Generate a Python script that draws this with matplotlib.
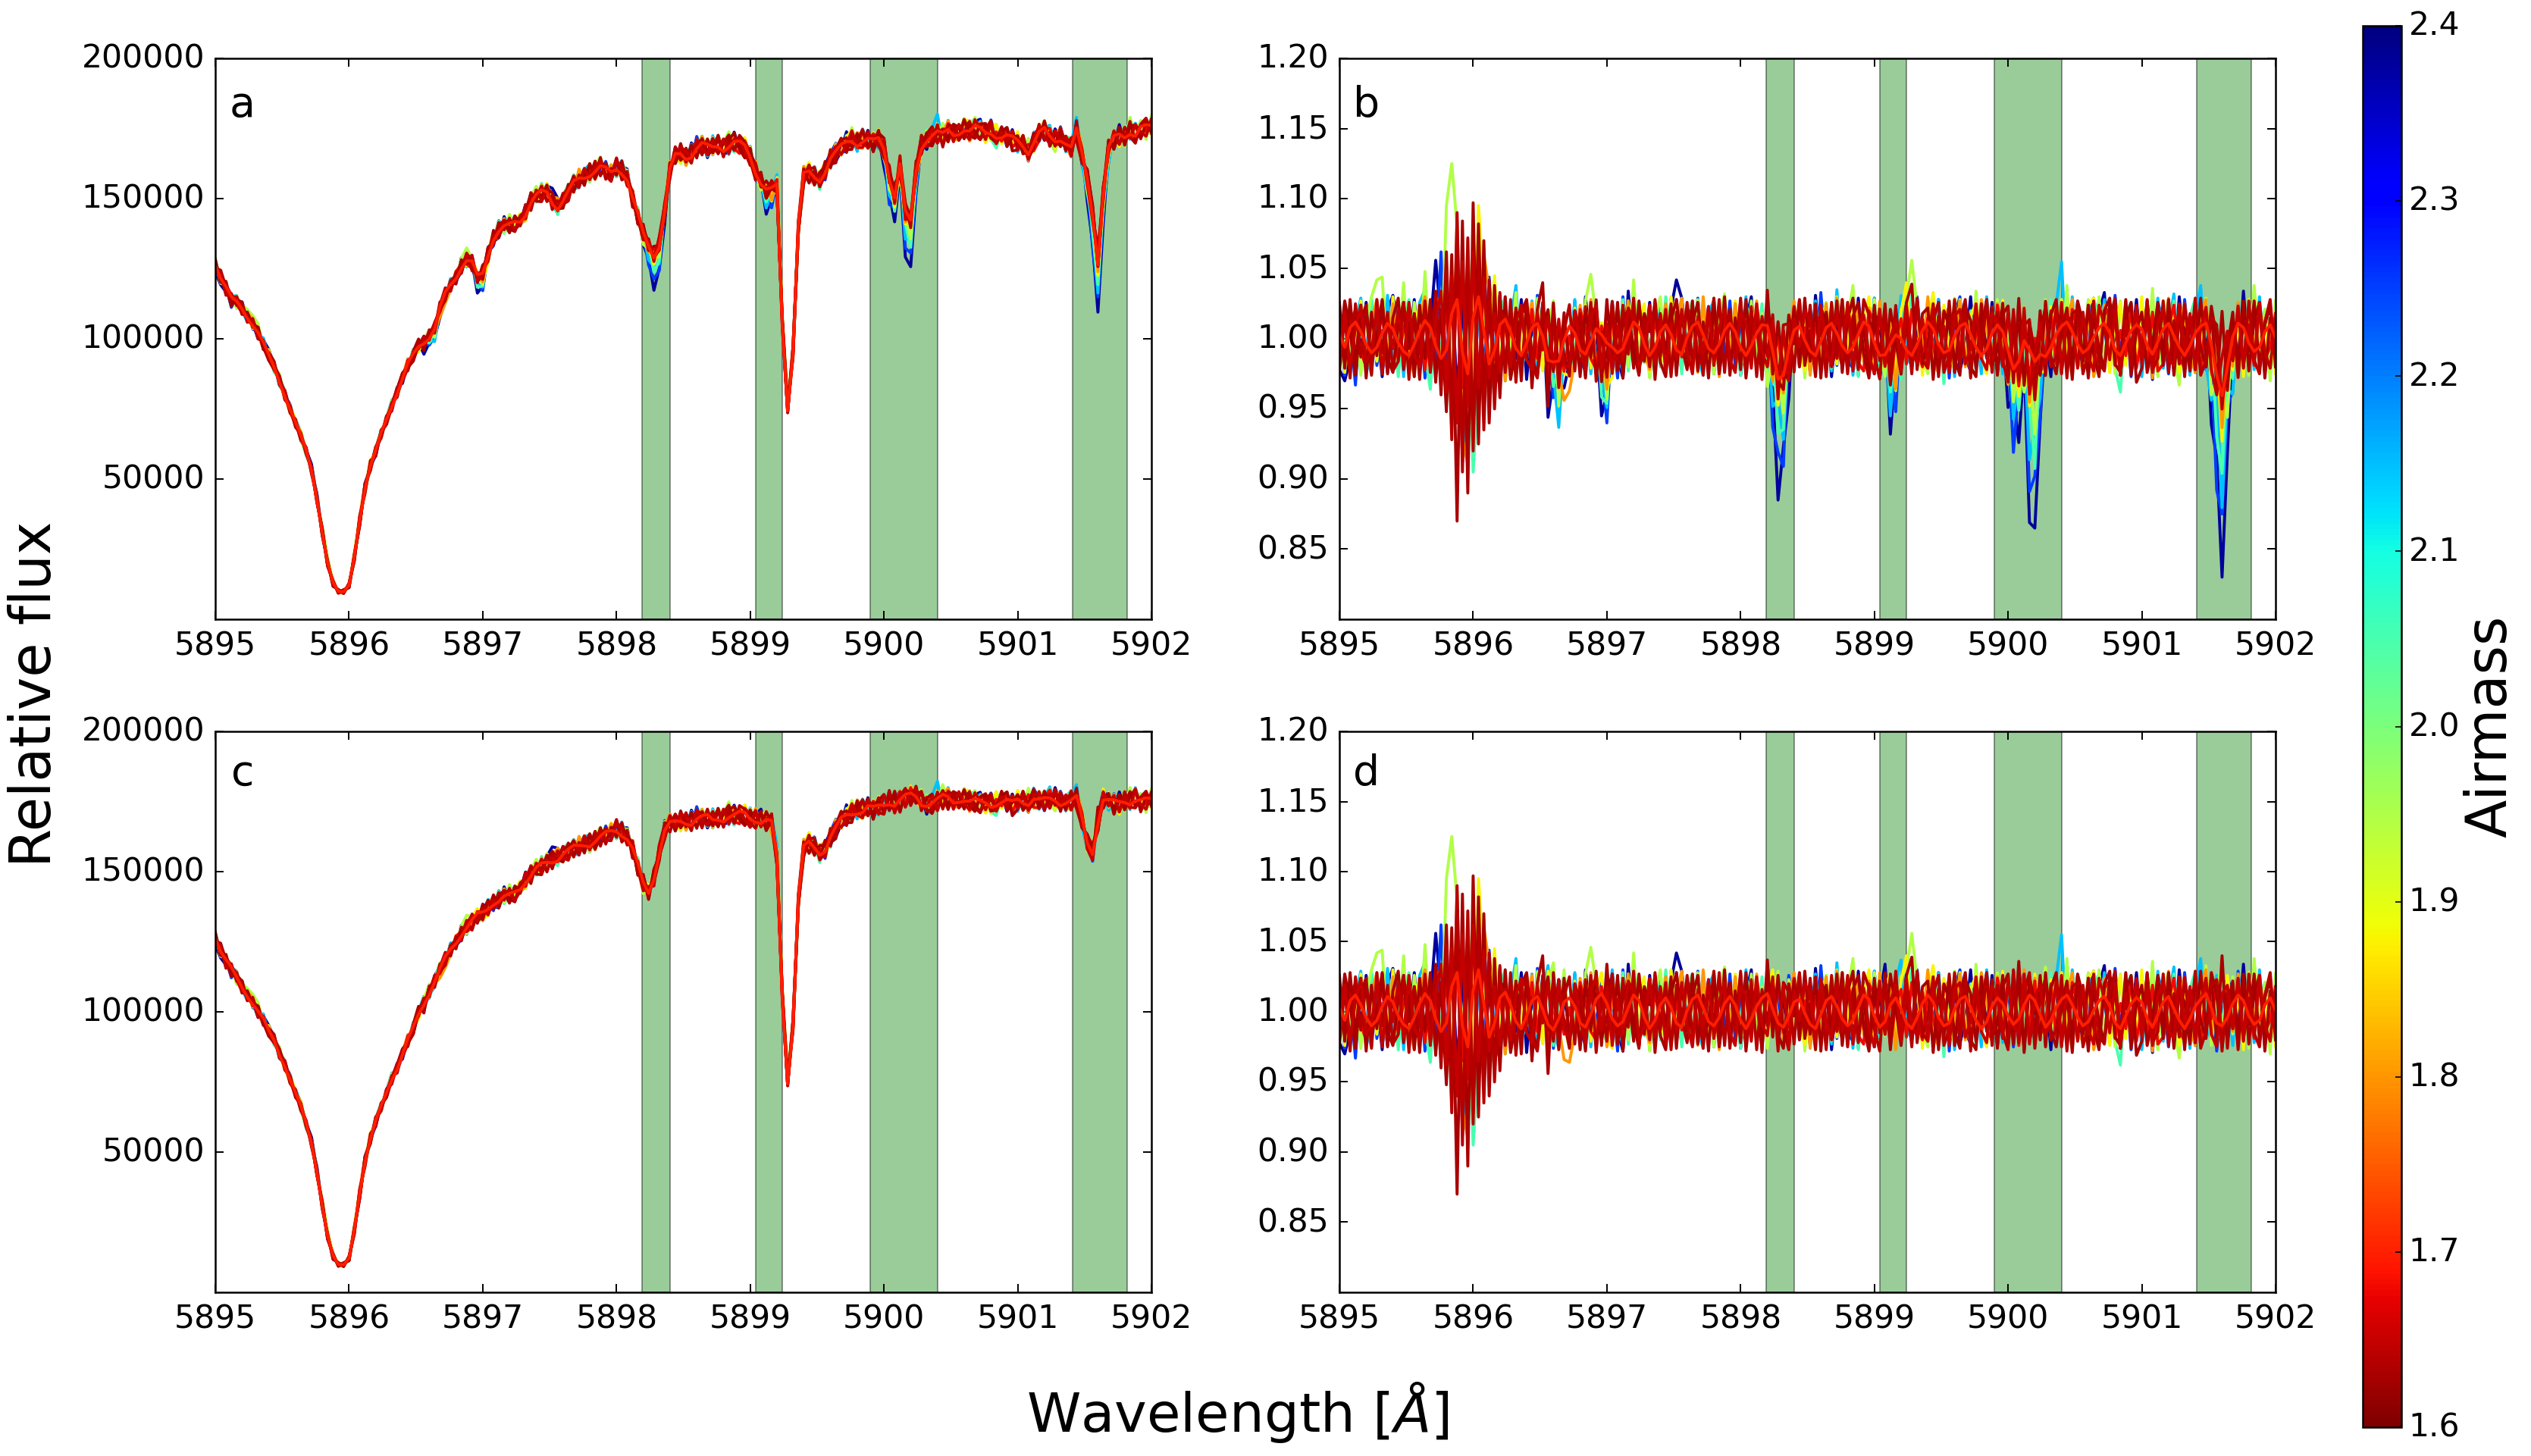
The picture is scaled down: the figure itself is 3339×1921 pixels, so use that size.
import numpy as np
import matplotlib
matplotlib.use('Agg')
from matplotlib import rcParams, cm
from matplotlib.colors import Normalize
from matplotlib.transforms import ScaledTranslation
import matplotlib.pyplot as plt

W, H = 3339, 1921
rcParams.update({'font.family': 'DejaVu Sans', 'font.size': 15.3, 'axes.linewidth': 0.9})

# sampling step of all the traces below, in Angstrom
wave_start, wave_step = 5895.0, 0.04

# mean spectrum before correction, in units of 1000 counts (22 samples per row)
mean_a = [
    126,122,118,114,113,111,108,105,102,98,94,90,85,80,75,70,65,60,53,43,31,20,
    13,10,10,12,22,35,47,55,60,66,71,76,81,86,91,94,97,99,101,104,111,116,
    119,122,126,128,127,122,123,130,136,139,140,140,141,142,145,149,151,152,152,149,147,149,
    152,155,157,158,159,160,161,160,159,161,160,157,150,144,137,133,130,134,146,160,165,166,
    165,166,168,169,168,168,169,168,169,170,169,168,165,160,156,153,153,155,105,75,95,140,
    158,159,158,157,160,164,166,168,170,171,170,171,171,170,171,168,158,151,162,145,142,160,
    169,171,172,173,172,174,173,174,175,174,175,174,173,174,173,172,172,171,170,169,167,170,
    173,174,172,171,172,170,168,174,165,157,145,128,152,168,171,172,172,174,173,175,175,176,
]

# mean spectrum after telluric correction
mean_c = [
    126,122,118,115,112,109,106,103,100,97,93,90,85,81,76,71,66,60,53,43,31,20,
    13,10,10,12,22,35,47,55,61,66,71,76,80,85,90,94,99,103,107,111,115,119,
    122,125,128,130,132,134,135,137,139,140,141,141,142,144,147,149,151,152,153,154,155,156,
    157,158,159,160,160,161,162,163,164,165,164,162,158,152,145,142,148,157,165,167,167,168,
    168,168,169,169,169,168,169,169,170,170,170,170,169,169,168,168,167,155,105,75,95,140,
    158,160,159,157,158,162,165,168,170,171,172,172,173,172,173,174,175,174,175,176,177,177,
    175,174,174,175,176,176,175,176,176,175,175,174,174,174,175,175,175,174,175,175,175,176,
    175,175,176,176,175,175,175,176,168,160,157,168,176,175,174,174,175,175,176,175,175,176,
]

# telluric depth at the highest airmass, per mille
tell_depth = [
    0,0,0,0,0,0,0,0,0,0,0,0,0,0,0,0,0,0,0,0,0,0,
    0,0,0,0,0,0,0,0,0,0,0,0,0,0,0,0,0,35,20,60,45,5,
    0,0,0,0,10,55,50,5,0,0,0,0,0,0,0,0,0,0,0,0,0,0,
    0,0,0,0,0,0,0,0,0,0,0,0,0,0,20,60,115,85,25,5,0,0,
    0,0,0,0,0,0,0,0,0,0,0,0,0,5,25,50,40,10,0,0,0,0,
    0,0,0,0,0,0,0,0,0,0,0,0,0,0,5,30,70,60,35,110,135,50,
    10,0,0,0,0,0,0,0,0,0,0,0,0,0,0,0,0,0,0,0,0,0,
    0,0,0,0,0,0,0,0,10,40,100,170,90,25,5,0,0,0,0,0,0,0,
]

# residuals per exposure, per mille, in plotting order
res_navy = [
    -22,-30,-14,12,-8,26,-18,9,-27,20,31,-12,18,-6,28,-16,22,8,56,14,-24,35,
    -38,18,42,-55,27,-33,16,-20,31,-26,19,-14,28,-29,12,-17,24,-21,-9,23,10,-12,
    15,-22,30,-8,18,0,11,27,-13,-28,34,-15,19,-9,26,-20,14,-24,22,42,29,-6,
    9,-19,24,-12,28,-23,15,-7,21,-26,13,30,-16,20,-10,25,0,8,-18,27,-14,17,
    -24,31,-9,19,-27,12,23,-15,-21,29,-11,16,-25,10,34,-18,22,-13,27,-20,9,-16,
    24,-12,28,-26,15,19,-22,-8,30,-17,21,-10,26,-24,13,-19,29,-14,18,-21,0,-9,
    16,-27,22,-6,31,-18,11,-23,27,-13,19,33,-20,8,-26,24,-10,28,-16,21,-29,14,
    -12,25,-19,30,-8,17,-24,12,28,-21,15,0,9,23,-14,34,-18,26,-11,20,-23,13,
]
res_blue = [
    18,-26,9,-33,21,-12,27,-19,6,-24,30,14,-21,26,-9,19,-28,11,-16,62,-30,24,
    33,-48,20,-60,36,-25,44,-18,-34,22,-14,29,-22,16,-27,31,-12,20,-26,10,24,-19,
    27,-15,-23,19,-11,25,-20,13,-28,30,-7,18,-24,21,-13,26,-9,15,-22,28,-17,12,
    -20,29,-10,23,-25,16,-14,27,-21,8,24,-12,19,-27,31,-15,11,-23,26,-8,20,-18,
    14,-22,33,-13,24,-19,28,-10,17,-26,21,-16,29,-24,12,18,-20,25,-7,-15,30,-13,
    -19,26,-11,22,-28,17,30,-14,-23,20,-9,27,-17,24,-12,19,-25,15,28,-21,10,-16,
    23,-11,27,-24,18,-15,26,-20,12,29,-18,9,-22,31,-13,21,-27,16,-10,24,-19,26,
    12,-25,20,-16,28,-9,-22,26,-14,19,-28,11,24,-17,29,-20,13,-12,27,-24,18,-10,
]
res_azure = [
    -15,24,-20,11,29,-13,-25,18,-8,31,-17,22,-27,14,-11,26,35,-19,23,-14,28,-36,
    40,-52,-85,30,22,-41,36,-16,25,-30,13,38,-20,-9,27,-24,17,33,-12,-26,21,-15,
    28,-19,14,-25,22,9,-18,30,-12,-23,19,26,-14,20,-27,11,24,-16,29,-10,-21,17,
    23,-13,-26,19,27,-18,12,-22,25,-9,30,-15,21,-24,16,-11,28,-19,14,26,-20,9,
    -17,27,-12,20,-23,35,-15,24,-26,11,18,-21,29,-9,16,-24,22,37,-13,-19,25,-16,
    13,-23,28,-10,21,-27,15,24,-17,9,-25,30,-12,19,-22,26,-14,11,20,-18,23,-11,
    18,-16,24,55,-20,30,-12,17,-25,21,-9,28,-18,13,-23,26,-11,22,-27,15,-14,29,
    -21,10,32,-16,23,-26,14,38,-12,-19,26,-15,20,-24,27,-9,16,-22,30,-17,11,-13,
]
res_spring = [
    21,-13,26,-24,10,-18,29,-15,24,-9,19,-27,13,28,-20,16,-11,-36,25,30,-48,20,
    45,-60,25,-95,-30,35,-22,-38,18,30,-16,24,-21,12,-26,29,-13,18,-24,8,27,-19,
    -10,22,-27,16,25,-14,-21,19,-8,28,-23,13,26,-17,-12,24,-20,30,-15,10,-25,18,
    27,-11,19,-24,14,-16,28,-21,9,-26,23,17,-13,25,-19,30,-10,-22,16,24,-15,12,
    -23,18,-12,26,-21,29,-16,11,24,-27,14,-9,22,-18,27,-13,19,-24,10,31,-20,-14,
    25,-18,12,-32,22,-10,27,-15,20,-23,13,26,-11,-19,24,-16,29,-21,9,17,-25,22,
    -13,28,-20,10,25,-17,23,-12,-24,19,27,-15,14,-21,-38,18,26,-9,22,-17,11,-26,
    20,-14,27,-10,-23,16,29,-18,12,24,-20,-11,26,-16,19,-25,13,28,-14,21,-9,-22,
]
res_lime = [
    -17,24,-9,19,-26,13,30,42,44,-20,15,-11,40,-24,26,-16,48,-21,18,-27,95,125,
    80,-30,70,-50,88,26,-42,30,-19,24,-12,33,-27,15,-22,28,-10,20,35,-24,30,-15,
    22,-18,27,46,19,26,-23,10,-11,25,-20,42,-16,21,-28,13,30,-12,-19,24,-9,17,
    -22,28,-13,20,-25,15,32,-17,24,-10,-20,27,-14,18,-26,12,29,-19,23,-11,26,-28,
    17,-24,11,26,-15,30,-20,14,38,-12,19,-23,28,-9,-17,25,-21,25,30,56,22,-13,
    -25,27,-11,18,-22,29,-15,21,-26,34,-12,16,-20,28,-9,23,-17,12,-24,26,-14,10,
    32,-19,24,-13,38,-21,16,-10,28,-22,30,-15,11,-25,27,-18,20,-12,25,-16,36,-27,
    15,28,-12,-33,20,-17,26,-11,33,-24,14,35,-20,25,-15,18,-26,38,-10,21,-30,27,
]
res_yellow = [
    13,-24,20,-11,27,-19,9,-16,25,-22,30,-14,17,-26,11,24,-20,-12,28,-30,45,-40,
    70,-55,60,-75,95,38,-25,45,-20,12,-28,22,-13,26,-18,10,-23,29,-15,21,-11,-25,
    17,-10,24,-21,14,28,-19,-26,22,-12,27,-16,11,25,-23,19,-9,-20,30,-14,24,-18,
    26,-22,12,-15,29,-24,18,-11,27,-20,9,-19,24,-25,14,30,-13,20,-17,26,-10,-23,
    16,-27,23,-12,20,-18,28,-9,25,-21,13,30,-16,-24,18,27,-11,22,40,-14,19,-26,
    12,33,-17,24,-10,-22,28,-19,16,26,-13,-25,21,-12,29,-18,14,-23,25,-15,27,-9,
    -20,23,-14,28,-11,-26,19,-16,24,29,-12,17,-24,10,26,-19,22,-13,30,-21,15,-10,
    27,-17,21,-24,12,-13,25,-20,30,-9,18,-22,26,-15,11,-27,28,-19,23,-12,16,-25,
]
res_orange = [
    24,-15,10,-23,19,-26,14,28,-11,-20,25,-17,22,-9,-27,16,30,-13,21,-25,50,-65,
    85,-70,-90,40,-45,60,35,-22,28,-30,13,20,-24,9,26,-15,19,-27,24,-10,-34,-36,
    -16,24,-12,28,-20,15,-25,11,22,-13,27,-18,26,-11,-22,19,-9,25,-21,14,29,-17,
    12,-24,30,-13,18,-27,21,-10,25,-19,16,-12,27,-22,13,-17,26,-20,10,28,-15,22,
    -26,14,-19,25,-12,29,-21,17,-8,24,-16,22,-24,28,-13,20,-27,11,19,-14,26,-10,
    30,-18,-24,15,23,-11,27,-20,13,-16,28,9,-22,25,-12,-26,18,-14,30,-21,24,-13,
    17,-10,26,-23,12,28,-16,-21,20,-27,-9,24,-13,19,-25,27,-18,14,-11,22,-28,16,
    -15,29,-20,11,25,-12,-24,18,30,-17,23,-26,10,-14,27,-19,21,-9,26,-23,13,-16,
]
res_dark_a = [
    26,-21,28,-17,24,-28,19,-12,27,-25,15,29,-22,12,-27,24,-14,28,-31,21,-52,60,
    -130,84,-110,97,-75,70,-60,38,-42,30,-26,22,-30,27,-35,21,40,-44,28,-18,24,-20,
    16,-27,23,-13,29,-24,34,-20,26,-28,14,-21,27,-16,24,-29,18,-11,25,-26,20,-14,
    27,-23,12,-28,25,-17,30,-26,15,-22,28,-13,21,-29,37,-18,26,-12,-27,23,-20,29,
    -16,25,-28,19,-13,27,-24,14,29,-21,11,-26,24,-15,28,-27,17,-12,26,39,-22,18,
    22,-29,16,-18,27,-24,12,28,-20,-27,25,-14,23,-26,18,27,-23,36,-29,21,-16,26,
    -25,17,28,-22,13,-29,26,-16,24,-11,-27,20,29,-18,-24,15,26,-31,-21,27,-14,23,
    -19,28,-13,24,-27,16,-22,29,-12,25,-21,40,-26,18,-14,27,-23,13,26,-28,15,-17,
]
res_dark_c = [
    -8,27,5,-26,13,24,-19,3,28,-14,-24,9,26,-7,18,-29,21,-11,34,-40,62,-58,
    75,-88,45,-70,82,-48,31,-36,22,16,-29,-6,19,28,-12,-27,8,25,-21,15,-6,-26,
    20,6,-28,24,10,-19,-4,27,-23,12,21,-8,-26,18,5,25,-17,-27,13,28,-5,-22,
    11,26,-18,-7,29,-25,4,21,-12,27,-28,7,18,-22,25,9,-16,-26,20,-3,28,-19,
    6,-27,22,12,-20,-5,28,-23,16,26,-11,-28,8,19,-16,27,3,-24,14,-13,29,-18,
    -3,25,-27,20,9,-14,-26,23,13,-21,5,28,-19,-8,26,-24,11,17,-27,25,6,-20,
    28,-13,-25,4,22,-18,27,11,-28,16,-7,-22,25,13,-17,28,-26,6,19,-24,-4,26,
    -10,21,-26,15,7,-23,26,-6,-19,28,12,-25,4,22,-27,17,-9,27,-21,10,24,-15,
]
res_dark_b = [
    -24,17,-28,25,-13,21,-26,28,-10,19,-23,-16,26,-29,18,-11,27,-20,30,-34,48,-72,
    90,-95,72,-80,55,-65,42,-50,33,-24,28,-31,17,24,-19,-28,26,-13,22,-27,11,25,
    -23,18,-14,26,-29,12,-21,27,-16,24,-11,29,-25,14,-20,28,-13,21,-27,19,-9,26,
    -18,13,-26,22,-11,28,-24,17,-14,29,-21,23,-27,16,-10,25,-28,21,14,-23,27,-12,
    24,-19,11,-27,26,-14,20,-25,13,-22,28,17,-12,-28,23,-16,29,-20,12,-25,27,-15,
    -21,13,26,-24,-12,28,-19,22,-28,15,-11,27,-24,19,-15,-27,30,-22,14,28,-26,11,
    24,-20,-13,26,-28,18,21,-25,-10,27,-17,-23,14,29,-26,11,-19,24,-13,28,-22,-14,
    27,-24,13,-18,25,-11,29,-26,-14,20,23,-28,16,-12,24,-21,27,-15,-25,12,28,-20,
]
res_red = [
    -12,19,-21,8,24,-16,-9,22,-25,14,-7,21,-18,26,-11,-20,17,-24,13,34,-38,45,
    -60,55,-48,62,-35,44,-28,18,-24,16,-20,12,24,-15,-22,19,-8,21,-17,23,-12,-19,
    20,-7,-22,15,25,-13,18,-24,9,-16,22,14,-20,-10,24,-18,17,-23,11,-14,21,-9,
    -25,16,-11,23,-19,8,21,-15,-24,18,12,-21,25,-9,-17,22,-13,19,-26,15,-6,20,
    13,-22,24,-8,-18,20,-14,26,-23,10,17,-12,-25,22,-16,8,19,-21,24,-10,-17,14,
    -20,23,-13,9,-24,16,21,-18,-7,25,-14,-22,18,12,-19,24,-11,-15,27,-23,10,19,
    -16,-8,22,-25,17,11,-21,19,-13,-23,24,9,-15,20,-26,13,-7,23,-18,16,-24,12,
    21,-14,-19,25,-10,18,-22,7,24,-16,-25,13,19,-12,23,-20,10,-17,26,-9,-21,15,
]
res_red_b = [
    6,-17,14,20,-9,-20,16,-3,19,-21,11,-15,7,22,-18,4,-22,17,9,-28,30,-52,
    40,-35,58,-62,38,-30,20,-15,12,-21,18,5,-17,-9,21,-14,16,-20,8,19,-16,3,
    -18,21,7,-14,-20,18,3,16,-22,-6,19,-12,23,4,-19,15,-8,20,-24,9,-13,22,
    16,-9,-21,14,5,-20,19,-12,-3,23,-18,13,6,-24,18,-7,21,-15,-10,24,-19,8,
    -15,9,18,-22,13,-6,-19,22,3,-17,-23,20,12,-9,19,-24,6,16,-18,21,-7,-20,
    15,-5,-22,19,12,-18,-8,23,-21,4,18,-13,-20,24,7,-16,19,-24,9,-11,22,-17,
    -7,20,-18,13,-23,21,5,-14,24,-9,-20,17,22,-19,6,-12,25,-21,3,-16,19,-23,
    -18,8,24,-13,-21,16,12,-24,19,-5,22,-17,-9,20,-22,14,5,-19,23,-14,-6,18,
]
res_bright = [
    3,-6,8,12,5,-4,-10,-6,4,11,7,-3,-9,-12,-4,6,13,8,-5,-14,-8,18,
    28,-10,-25,15,30,6,-18,-8,10,14,5,-7,-12,-3,8,11,2,-9,-13,-5,7,10,
    4,-8,-11,-2,9,13,6,-5,-10,-7,3,12,8,-4,-12,-6,5,10,3,-8,-11,1,
    9,12,3,-7,-10,-4,6,11,5,-6,-12,-5,4,10,13,2,-8,-11,-3,7,9,-1,
    -9,-12,-2,8,11,4,-5,-10,-6,3,12,9,-3,-11,-7,5,10,2,-8,-12,-4,6,
    12,7,-4,-10,-8,2,9,11,3,-6,-12,-7,4,10,6,-3,-9,-5,5,12,8,-2,
    -11,-6,3,9,12,5,-4,-10,-7,1,8,11,4,-8,-12,-3,6,10,7,-5,-11,-2,
    7,11,2,-6,-12,-5,4,9,13,3,-8,-10,-4,6,12,8,-3,-9,-6,5,10,1,
]

residuals = [res_navy, res_blue, res_azure, res_spring, res_lime, res_yellow,
             res_orange, res_red_b, res_dark_a, res_dark_c, res_dark_b, res_red, res_bright]
airmass = [2.38, 2.25, 2.15, 2.05, 1.95, 1.88, 1.80, 1.68, 1.63, 1.63, 1.64, 1.65, 1.70]
# fraction of tell_depth seen by each exposure
tell_scale = [1.0, 0.8, 0.62, 0.5, 0.4, 0.3, 0.22, 0.16, 0.12, 0.12, 0.13, 0.15, 0.18]

# corrected wavelength windows
windows = [(5898.19, 5898.40), (5899.04, 5899.24), (5899.90, 5900.40), (5901.41, 5901.82)]

xticks = [5895, 5896, 5897, 5898, 5899, 5900, 5901, 5902]
flux_ticks = [50000, 100000, 150000, 200000]
ratio_ticks = [0.85, 0.90, 0.95, 1.00, 1.05, 1.10, 1.15, 1.20]
cbar_ticks = [1.6, 1.7, 1.8, 1.9, 2.0, 2.1, 2.2, 2.3, 2.4]


def add_axes_px(fig, left, top, right, bottom):
    return fig.add_axes([left / W, 1 - bottom / H, (right - left) / W, (bottom - top) / H])


def raise_ylabels(ax, fig):
    # tick labels sit a few pixels above their ticks
    offset = ScaledTranslation(0, 4 / 200, fig.dpi_scale_trans)
    for lab in ax.get_yticklabels():
        lab.set_transform(lab.get_transform() + offset)


def style_axes(ax, letter, letter_y):
    for lo, hi in windows:
        ax.axvspan(lo, hi, facecolor='g', edgecolor='k', alpha=0.4, lw=0.7)
    ax.set_xlim(5895, 5902)
    ax.set_xticks(xticks)
    ax.set_xticklabels([str(t) for t in xticks])
    ax.tick_params(direction='in', top=True, right=True, length=4, width=0.7)
    ax.tick_params(axis='x', pad=5.3)
    ax.tick_params(axis='y', pad=5)
    ax.text(0.029, letter_y, letter, transform=ax.transAxes, ha='center', va='center', fontsize=20)


fig = plt.figure(figsize=(W / 200, H / 200), dpi=200, facecolor='white')
ax_a = add_axes_px(fig, 284, 77, 1519, 817)
ax_b = add_axes_px(fig, 1767, 77, 3002, 817)
ax_c = add_axes_px(fig, 284, 965, 1519, 1705)
ax_d = add_axes_px(fig, 1767, 965, 3002, 1705)

norm = Normalize(1.6, 2.4)
cmap = plt.get_cmap('jet_r')
tell = np.array(tell_depth, dtype=float) / 1000.0
wave = wave_start + wave_step * np.arange(len(tell))
mean_raw = np.array(mean_a) * 1000.0
mean_clean = np.array(mean_c) * 1000.0

for res, am, scale in zip(residuals, airmass, tell_scale):
    col = cmap(norm(am))
    noise = np.array(res, dtype=float) / 1000.0
    # the flux panels show less scatter than the ratio panels
    ax_a.plot(wave, mean_raw * (1 + 0.75 * noise - tell * (scale - 0.15)), color=col, lw=1.4)
    ax_b.plot(wave, 1 + noise - tell * scale, color=col, lw=1.4)
    ax_c.plot(wave, mean_clean * (1 + 0.75 * noise), color=col, lw=1.4)
    ax_d.plot(wave, 1 + noise, color=col, lw=1.4)

for ax, letter, ly in zip([ax_a, ax_c], 'ac', [0.916, 0.924]):
    style_axes(ax, letter, ly)
    ax.set_ylim(1, 200000)
    ax.set_yticks(flux_ticks)
    ax.set_yticklabels([str(t) for t in flux_ticks])
    raise_ylabels(ax, fig)

for ax, letter, ly in zip([ax_b, ax_d], 'bd', [0.916, 0.924]):
    style_axes(ax, letter, ly)
    ax.set_ylim(0.8, 1.2)
    ax.set_yticks(ratio_ticks)
    ax.set_yticklabels(['%.2f' % t for t in ratio_ticks])
    raise_ylabels(ax, fig)

cax = add_axes_px(fig, 3117, 34, 3168, 1883)
sm = cm.ScalarMappable(norm=norm, cmap=cmap)
cb = fig.colorbar(sm, cax=cax, ticks=cbar_ticks)
cb.ax.set_yticklabels(['%.1f' % t for t in cbar_ticks])
cb.ax.tick_params(direction='in', length=3, width=0.6, pad=3.5, labelsize=15.3)
raise_ylabels(cb.ax, fig)

fig.text(1633 / W, 1 - 1863 / H, r'Wavelength [$\AA$]', ha='center', va='center', fontsize=26)
fig.text(47 / W, 1 - 916 / H, 'Relative flux', rotation=90, ha='center', va='center', fontsize=26.5)
fig.text(3286 / W, 1 - 958 / H, 'Airmass', rotation=90, ha='center', va='center', fontsize=26.5)

fig.savefig('out.png', dpi=200)
plt.close(fig)
